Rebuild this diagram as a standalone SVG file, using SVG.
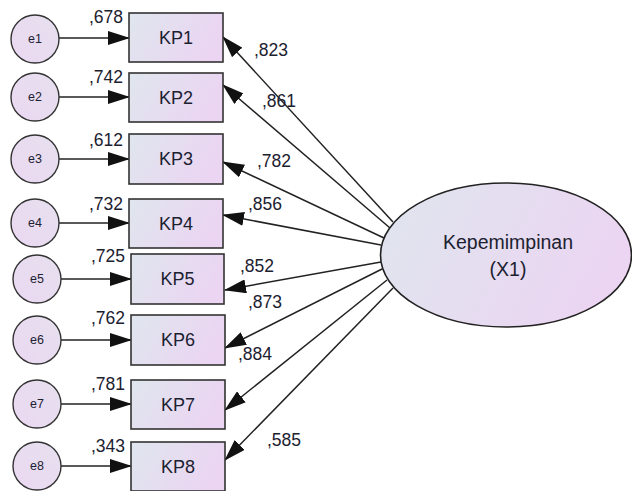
<svg xmlns="http://www.w3.org/2000/svg" width="632" height="491" viewBox="0 0 632 491">
  <defs>
    <linearGradient id="fillGrad" x1="0" y1="0" x2="1" y2="0.3">
      <stop offset="0" stop-color="#dfe6ee"/>
      <stop offset="1" stop-color="#ebd5f2"/>
    </linearGradient>
    <linearGradient id="errGrad" x1="0" y1="1" x2="1" y2="0">
      <stop offset="0" stop-color="#ebd8f2"/>
      <stop offset="1" stop-color="#e6e0ee"/>
    </linearGradient>
    <marker id="arrow" markerUnits="userSpaceOnUse" markerWidth="22" markerHeight="14" refX="21" refY="7" orient="auto">
      <path d="M0,0 L22,7 L0,14 Z" fill="#111"/>
    </marker>
  </defs>
  <style>
    .obs { fill: url(#fillGrad); stroke: #333; stroke-width: 1.6; }
    .err { fill: url(#errGrad); stroke: #333; stroke-width: 1.4; }
    .lat { fill: url(#fillGrad); stroke: #222; stroke-width: 1.6; }
    .conn { stroke: #222; stroke-width: 1.5; fill: none; marker-end: url(#arrow); }
    .lbl { font-family: "Liberation Sans", Arial, sans-serif; font-size: 18px; fill: #1c2130; }
    .big { font-size: 19.5px; }
    .num { font-family: "Liberation Sans", Arial, sans-serif; font-size: 17.5px; fill: #1c2130; }
    .etxt { font-family: "Liberation Sans", Arial, sans-serif; font-size: 12.5px; fill: #1c2130; text-anchor: middle; }
    .ctr { text-anchor: middle; }
  </style>

  <rect width="632" height="491" fill="#ffffff"/>

  <!-- connectors: error terms to indicators, latent factor to indicators -->
  <g id="connectors">
    <line class="conn" x1="59" y1="38" x2="129" y2="38"/>
    <line class="conn" x1="59" y1="97" x2="129" y2="97"/>
    <line class="conn" x1="59" y1="159" x2="129" y2="159"/>
    <line class="conn" x1="59" y1="223" x2="129" y2="223"/>
    <line class="conn" x1="61" y1="279" x2="131" y2="279"/>
    <line class="conn" x1="61" y1="340" x2="131" y2="340"/>
    <line class="conn" x1="61" y1="404" x2="131" y2="404"/>
    <line class="conn" x1="61" y1="466" x2="131" y2="466"/>

    <line class="conn" x1="393" y1="222" x2="223" y2="37"/>
    <line class="conn" x1="390" y1="228" x2="223" y2="85"/>
    <line class="conn" x1="384" y1="238" x2="223" y2="162"/>
    <line class="conn" x1="381" y1="245" x2="223" y2="215"/>
    <line class="conn" x1="381" y1="262" x2="225" y2="290"/>
    <line class="conn" x1="382" y1="269" x2="225" y2="348"/>
    <line class="conn" x1="387" y1="280" x2="225" y2="410"/>
    <line class="conn" x1="393" y1="288" x2="225" y2="460"/>
  </g>

  <!-- path and variance estimates -->
  <g id="estimates">
    <text class="num" x="89" y="23">,678</text>
    <text class="num" x="89" y="83">,742</text>
    <text class="num" x="89" y="146">,612</text>
    <text class="num" x="89" y="210">,732</text>
    <text class="num" x="91" y="262">,725</text>
    <text class="num" x="91" y="324">,762</text>
    <text class="num" x="91" y="390">,781</text>
    <text class="num" x="91" y="452">,343</text>

    <text class="num" x="254" y="56">,823</text>
    <text class="num" x="262" y="107">,861</text>
    <text class="num" x="257" y="167">,782</text>
    <text class="num" x="248" y="210">,856</text>
    <text class="num" x="240" y="272">,852</text>
    <text class="num" x="248" y="308">,873</text>
    <text class="num" x="238" y="360">,884</text>
    <text class="num" x="267" y="446">,585</text>
  </g>

  <!-- error terms -->
  <g id="e1"><circle class="err" cx="35" cy="39" r="24"/><text class="etxt" x="35" y="43">e1</text></g>
  <g id="e2"><circle class="err" cx="35" cy="97" r="24"/><text class="etxt" x="35" y="101">e2</text></g>
  <g id="e3"><circle class="err" cx="35" cy="159" r="24"/><text class="etxt" x="35" y="163">e3</text></g>
  <g id="e4"><circle class="err" cx="35" cy="223" r="24"/><text class="etxt" x="35" y="227">e4</text></g>
  <g id="e5"><circle class="err" cx="37" cy="279" r="24"/><text class="etxt" x="37" y="283">e5</text></g>
  <g id="e6"><circle class="err" cx="37" cy="340" r="24"/><text class="etxt" x="37" y="344">e6</text></g>
  <g id="e7"><circle class="err" cx="37" cy="404" r="24"/><text class="etxt" x="37" y="408">e7</text></g>
  <g id="e8"><circle class="err" cx="37" cy="466" r="24"/><text class="etxt" x="37" y="470">e8</text></g>

  <!-- observed indicators -->
  <g id="KP1"><rect class="obs" x="129" y="13" width="94" height="49"/><text class="lbl ctr" x="176" y="44">KP1</text></g>
  <g id="KP2"><rect class="obs" x="129" y="73" width="94" height="49"/><text class="lbl ctr" x="176" y="104">KP2</text></g>
  <g id="KP3"><rect class="obs" x="129" y="134" width="94" height="50"/><text class="lbl ctr" x="176" y="165">KP3</text></g>
  <g id="KP4"><rect class="obs" x="129" y="199" width="94" height="49"/><text class="lbl ctr" x="176" y="230">KP4</text></g>
  <g id="KP5"><rect class="obs" x="131" y="254" width="93" height="50"/><text class="lbl ctr" x="177.5" y="285">KP5</text></g>
  <g id="KP6"><rect class="obs" x="131" y="315" width="94" height="50"/><text class="lbl ctr" x="178" y="346">KP6</text></g>
  <g id="KP7"><rect class="obs" x="131" y="380" width="94" height="49"/><text class="lbl ctr" x="178" y="411">KP7</text></g>
  <g id="KP8"><rect class="obs" x="131" y="442" width="94" height="49"/><text class="lbl ctr" x="178" y="473">KP8</text></g>

  <!-- latent factor -->
  <g id="X1">
    <ellipse class="lat" cx="506" cy="255" rx="125.5" ry="72"/>
    <text class="lbl big ctr" x="508" y="249">Kepemimpinan</text>
    <text class="lbl big ctr" x="508" y="276">(X1)</text>
  </g>
</svg>
